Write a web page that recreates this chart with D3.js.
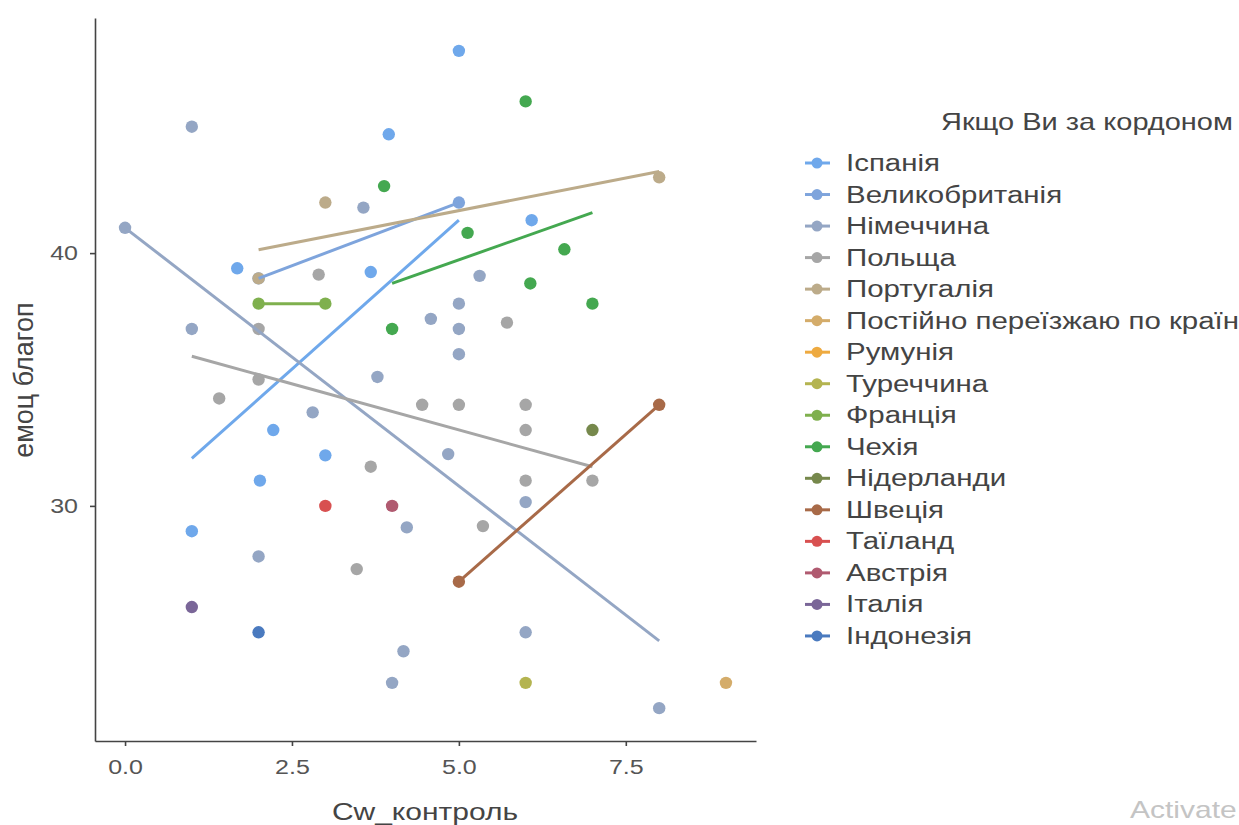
<!DOCTYPE html>
<html>
<head>
<meta charset="utf-8">
<script src="https://cdn.jsdelivr.net/npm/d3@7"></script>
<style>
  body { margin: 0; background: #fff; }
  svg { display: block; font-family: "Liberation Sans", Arial, sans-serif; }
</style>
</head>
<body>
<div id="chart"></div>
<script>
// groups, in legend order
var countries = ["Іспанія", "Великобританія", "Німеччина", "Польща", "Португалія",
  "Постійно переїзжаю по країн", "Румунія", "Туреччина", "Франція", "Чехія",
  "Нідерланди", "Швеція", "Таїланд", "Австрія", "Італія", "Індонезія"];
var colors = ["#6fa8eb", "#7ea4dc", "#94a6c4", "#a6a6a6", "#bcab8a",
  "#d4ac6a", "#eeaa40", "#b4b450", "#7fb04e", "#44a850",
  "#76884c", "#a86a48", "#d85050", "#b05a70", "#7a6698", "#4a7abf"];

// points: [country index, Cw_контроль, емоц благоп]
var points = [
  [0, 5, 48], [0, 3.95, 44.7], [0, 1.68, 39.4], [0, 3.68, 39.25], [0, 6.09, 41.3],
  [0, 2.22, 33.0], [0, 3, 32], [0, 2.02, 31], [0, 1, 29],
  [1, 2, 39], [1, 5, 42],
  [2, 1, 45], [2, 3.57, 41.8], [2, 0, 41], [2, 5.31, 39.1], [2, 5, 38], [2, 4.58, 37.4],
  [2, 5, 37], [2, 1, 37], [2, 5, 36], [2, 3.78, 35.1], [2, 2.81, 33.7], [2, 4.84, 32.05],
  [2, 6, 30.15], [2, 4.22, 29.15], [2, 2, 28], [2, 6, 25], [2, 4.17, 24.25], [2, 4, 23], [2, 8, 22],
  [3, 2.9, 39.15], [3, 5.72, 37.25], [3, 2, 37], [3, 2, 35], [3, 1.41, 34.25], [3, 4.45, 34],
  [3, 5, 34], [3, 6, 34], [3, 6, 33], [3, 3.68, 31.55], [3, 6, 31], [3, 7, 31],
  [3, 5.36, 29.2], [3, 3.47, 27.5],
  [4, 3, 42], [4, 2, 39], [4, 8, 43],
  [5, 9, 23],
  [7, 6, 23],
  [8, 2, 38], [8, 3, 38],
  [9, 6, 46], [9, 3.88, 42.65], [9, 5.13, 40.8], [9, 6.58, 40.15], [9, 6.07, 38.8], [9, 7, 38], [9, 4, 37],
  [10, 7, 33],
  [11, 5, 27], [11, 8, 34],
  [12, 3, 30],
  [13, 4, 30],
  [14, 1, 26],
  [15, 2, 25]
];

// linear fits: [country index, x start, y start, x end, y end]
var fits = [
  [0, 1, 31.88, 5, 41.3],
  [1, 2, 39, 5, 42],
  [2, 0, 41, 8, 24.66],
  [3, 1, 35.92, 7, 31.55],
  [4, 2, 40.13, 8, 43.23],
  [8, 2, 38, 3, 38],
  [9, 4, 38.8, 7, 41.6],
  [11, 5, 27, 8, 34]
];

var xTicks = [0, 2.5, 5, 7.5];
var yTicks = [30, 40];

var width = 1239, height = 825;
var sx = 1.25; // the screenshot's text is drawn wide
var svg = d3.select("#chart").append("svg")
  .attr("width", width).attr("height", height);

var x = d3.scaleLinear().domain([-0.45, 9.45]).range([95, 756]);
var y = d3.scaleLinear().domain([20.7, 49.3]).range([741, 18]);

// axes
var xAxis = svg.append("g").attr("transform", "translate(0,741)")
  .call(d3.axisBottom(x).tickValues(xTicks).tickFormat(d3.format(".1f")).tickSize(5).tickSizeOuter(0).tickPadding(14));
var yAxis = svg.append("g").attr("transform", "translate(95,0)")
  .call(d3.axisLeft(y).tickValues(yTicks).tickSize(5).tickSizeOuter(0).tickPadding(12));

[xAxis, yAxis].forEach(function(a){
  a.select(".domain").attr("stroke", "#444").attr("stroke-width", 1.6);
  a.selectAll(".tick line").attr("stroke", "#444").attr("stroke-width", 1.6);
  a.selectAll(".tick text").attr("fill", "#555").style("font-size", "20px")
    .each(function(){
      let t = d3.select(this);
      let tx = +t.attr("x") || 0;
      t.attr("x", 0).attr("transform", "translate(" + tx + ",0) scale(" + sx + ",1)");
    });
});

// points
svg.append("g").selectAll("circle")
  .data(points)
  .join("circle")
  .attr("cx", function(d){ return x(d[1]); })
  .attr("cy", function(d){ return y(d[2]); })
  .attr("r", 6.2)
  .attr("fill", function(d){ return colors[d[0]]; });

// fit lines
svg.append("g").selectAll("line")
  .data(fits)
  .join("line")
  .attr("x1", function(d){ return x(d[1]); })
  .attr("y1", function(d){ return y(d[2]); })
  .attr("x2", function(d){ return x(d[3]); })
  .attr("y2", function(d){ return y(d[4]); })
  .attr("stroke", function(d){ return colors[d[0]]; })
  .attr("stroke-width", 3);

// axis titles
svg.append("text")
  .attr("transform", "translate(425,820) scale(" + sx + ",1)")
  .attr("text-anchor", "middle")
  .attr("fill", "#444")
  .style("font-size", "24px")
  .text("Cw_контроль");

svg.append("text")
  .attr("transform", "translate(33,380) rotate(-90)")
  .attr("text-anchor", "middle")
  .attr("fill", "#444")
  .style("font-size", "27px")
  .text("емоц благоп");

// legend
var legend = svg.append("g");
legend.append("text")
  .attr("transform", "translate(941,130) scale(1.26,1)")
  .attr("fill", "#444")
  .style("font-size", "23px")
  .text("Якщо Ви за кордоном");

var item = legend.selectAll("g.item")
  .data(countries)
  .join("g")
  .attr("class", "item")
  .attr("transform", function(d, i){ return "translate(0," + (163 + i * 31.53) + ")"; });

item.append("line")
  .attr("x1", 805).attr("x2", 830)
  .attr("stroke", function(d, i){ return colors[i]; })
  .attr("stroke-width", 3);
item.append("circle")
  .attr("cx", 817).attr("r", 5.5)
  .attr("fill", function(d, i){ return colors[i]; });
item.append("text")
  .attr("transform", "translate(846,8) scale(1.28,1)")
  .attr("fill", "#444")
  .style("font-size", "23px")
  .text(function(d){ return d; });

// watermark seen in the screenshot
svg.append("text")
  .attr("transform", "translate(1130,818) scale(" + sx + ",1)")
  .attr("fill", "#c4c4c4")
  .style("font-size", "24px")
  .text("Activate");
</script>
</body>
</html>
